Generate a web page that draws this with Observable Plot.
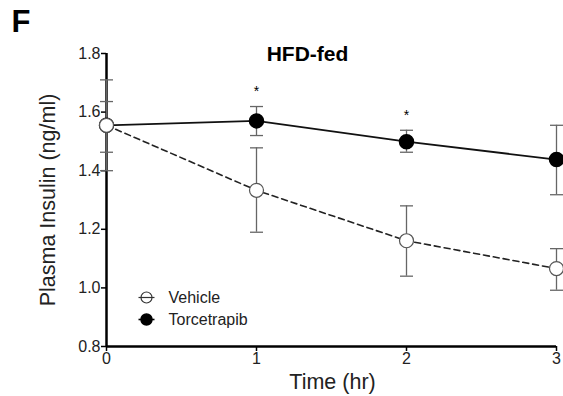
<!DOCTYPE html>
<html>
<head>
<meta charset="utf-8">
<script src="https://cdn.jsdelivr.net/npm/d3@7"></script>
<script src="https://cdn.jsdelivr.net/npm/@observablehq/plot@0.6"></script>
<style>
  html, body { margin: 0; padding: 0; background: #fff; }
  #chart svg { display: block; }
</style>
</head>
<body>
<div id="chart"></div>
<script>
// ---- data ----
const times = [0, 1, 2, 3];
const vehicleMean = [1.555, 1.333, 1.161, 1.066];
const vehicleHi   = [1.710, 1.478, 1.280, 1.134];
const vehicleLo   = [1.400, 1.190, 1.040, 0.992];
const torceMean   = [1.555, 1.570, 1.499, 1.438];
const torceHi     = [1.636, 1.619, 1.538, 1.555];
const torceLo     = [1.463, 1.520, 1.463, 1.318];
const starTimes   = [1, 2];
const yTicks = [0.8, 1.0, 1.2, 1.4, 1.6, 1.8];
const xTicks = [0, 1, 2, 3];
const seriesNames = ["Vehicle", "Torcetrapib"];

const vehicle = times.map((t, i) => ({t, m: vehicleMean[i], hi: vehicleHi[i], lo: vehicleLo[i]}));
const torce = times.map((t, i) => ({t, m: torceMean[i], hi: torceHi[i], lo: torceLo[i]}));
const stars = starTimes.map(t => ({t, y: torceHi[times.indexOf(t)]}));

const capSymbol = {draw(ctx) { ctx.moveTo(-6.5, 0); ctx.lineTo(6.5, 0); }};
const legendLine = {draw(ctx) { ctx.moveTo(-8, 0); ctx.lineTo(8, 0); }};
const errColor = "#666";

function errorMarks(data) {
  return [
    Plot.ruleX(data, {x: "t", y1: "lo", y2: "hi", stroke: errColor, strokeWidth: 1.3}),
    Plot.dot(data, {x: "t", y: "hi", symbol: capSymbol, stroke: errColor, strokeWidth: 1.3, r: 1}),
    Plot.dot(data, {x: "t", y: "lo", symbol: capSymbol, stroke: errColor, strokeWidth: 1.3, r: 1})
  ];
}

const chart = Plot.plot({
  width: 563,
  height: 396,
  marginLeft: 106,
  marginRight: 7,
  marginTop: 53,
  marginBottom: 50,
  style: {fontFamily: "Arial, 'Liberation Sans', sans-serif", color: "#000", background: "#fff"},
  x: {domain: [0, 3]},
  y: {domain: [0.8, 1.8]},
  marks: [
    // axes
    Plot.axisY({ticks: yTicks, tickFormat: d3.format(".1f"), tickSize: 5, tickPadding: 1, fontSize: 16, strokeWidth: 1.5, label: null, fill: "#222"}),
    Plot.axisX({ticks: xTicks, tickFormat: d3.format("d"), tickSize: 5, tickPadding: 1, fontSize: 16, strokeWidth: 1.5, label: null, fill: "#222"}),
    Plot.ruleX([0], {y1: 0.8, y2: 1.8, stroke: "#000", strokeWidth: 2.5}),
    Plot.ruleY([0.8], {x1: 0, x2: 3, stroke: "#000", strokeWidth: 2.5}),
    // error bars
    ...errorMarks(torce),
    ...errorMarks(vehicle),
    // lines
    Plot.line(torce, {x: "t", y: "m", stroke: "#111", strokeWidth: 1.8}),
    Plot.line(vehicle, {x: "t", y: "m", stroke: "#222", strokeWidth: 1.6, strokeDasharray: "6,4"}),
    // points
    Plot.dot(torce, {x: "t", y: "m", r: 7, fill: "#000", stroke: "#000"}),
    Plot.dot(vehicle, {x: "t", y: "m", r: 7, fill: "#fff", stroke: "#555", strokeWidth: 1.2}),
    // significance stars
    Plot.text(stars, {x: "t", y: "y", text: () => "*", fontSize: 14, dy: -15, lineAnchor: "middle"}),
    // legend
    Plot.dot([seriesNames[0]], {frameAnchor: "bottom-left", dx: 40, dy: -49, symbol: legendLine, stroke: "#333", strokeWidth: 1.2}),
    Plot.dot([seriesNames[0]], {frameAnchor: "bottom-left", dx: 40, dy: -49, r: 5.5, fill: "none", stroke: "#333", strokeWidth: 1.2}),
    Plot.text([seriesNames[0]], {frameAnchor: "bottom-left", text: d => d, dx: 62, dy: -49, textAnchor: "start", fontSize: 16, lineAnchor: "middle", fill: "#222"}),
    Plot.dot([seriesNames[1]], {frameAnchor: "bottom-left", dx: 40, dy: -27, symbol: legendLine, stroke: "#000", strokeWidth: 1.6}),
    Plot.dot([seriesNames[1]], {frameAnchor: "bottom-left", dx: 40, dy: -27, r: 5.5, fill: "#000", stroke: "#000"}),
    Plot.text([seriesNames[1]], {frameAnchor: "bottom-left", text: d => d, dx: 62, dy: -27, textAnchor: "start", fontSize: 16, lineAnchor: "middle", fill: "#222"}),
    // titles and axis labels
    Plot.text(["HFD-fed"], {frameAnchor: "top", text: d => d, dx: -24, dy: 1, fontSize: 21, fontWeight: "bold", lineAnchor: "middle"}),
    Plot.text(["F"], {frameAnchor: "top-left", text: d => d, dx: -95, dy: -31, fontSize: 31, fontWeight: "bold", textAnchor: "start", lineAnchor: "middle"}),
    Plot.text(["Plasma Insulin (ng/ml)"], {frameAnchor: "left", text: d => d, dx: -58, dy: 0, rotate: -90, textAnchor: "middle", fontSize: 21.5, lineAnchor: "middle", fill: "#222"}),
    Plot.text(["Time (hr)"], {frameAnchor: "bottom", text: d => d, dx: 1, dy: 36, fontSize: 21.5, lineAnchor: "middle", fill: "#222"})
  ]
});
document.getElementById("chart").append(chart);
</script>
</body>
</html>
